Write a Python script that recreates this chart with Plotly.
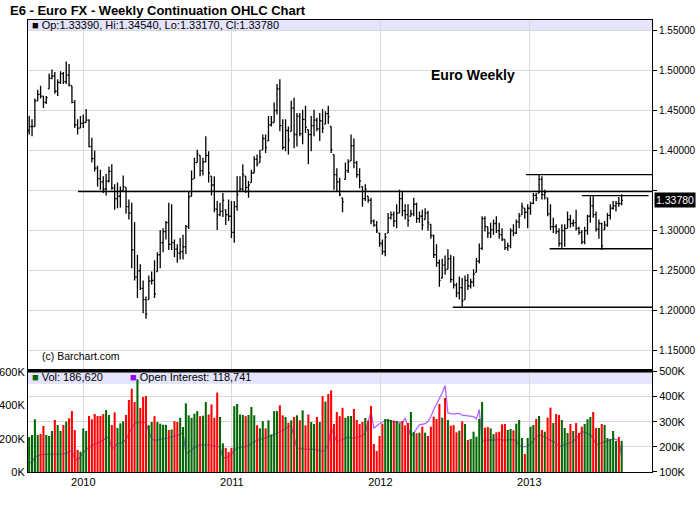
import pandas as pd
import plotly.graph_objects as go

# ---------------- data ----------------
dates = pd.date_range("2009-08-21", periods=209, freq="7D")

opens = [
1.425,1.430,1.430,1.462,1.470,1.468,1.460,1.477,1.490,1.493,
1.474,1.485,1.496,1.486,1.494,1.481,1.460,1.432,1.428,1.434,
1.435,1.438,1.405,1.390,1.378,1.365,1.361,1.352,1.362,1.374,
1.353,1.340,1.343,1.350,1.354,1.330,1.322,1.276,1.242,1.250,
1.228,1.214,1.214,1.237,1.238,1.249,1.270,1.285,1.299,1.310,
1.283,1.285,1.277,1.272,1.274,1.280,1.305,1.343,1.365,1.385,
1.394,1.375,1.386,1.394,1.368,1.357,1.327,1.320,1.324,1.326,
1.320,1.318,1.298,1.330,1.349,1.352,1.368,1.354,1.360,1.372,
1.389,1.385,1.401,1.415,1.412,1.432,1.435,1.450,1.477,1.431,
1.404,1.425,1.424,1.453,1.420,1.443,1.421,1.439,1.426,1.420,
1.431,1.438,1.427,1.437,1.433,1.446,1.430,1.395,1.370,1.361,
1.341,1.364,1.375,1.387,1.406,1.385,1.370,1.355,1.340,1.343,
1.338,1.312,1.307,1.297,1.284,1.274,1.297,1.316,1.320,1.312,
1.322,1.340,1.325,1.320,1.318,1.321,1.333,1.315,1.318,1.314,
1.322,1.308,1.294,1.270,1.260,1.241,1.257,1.252,1.265,1.239,
1.232,1.222,1.229,1.214,1.238,1.231,1.236,1.248,1.262,1.278,
1.315,1.305,1.297,1.301,1.309,1.300,1.295,1.289,1.279,1.281,
1.300,1.297,1.311,1.320,1.328,1.323,1.328,1.334,1.344,1.347,
1.364,1.345,1.341,1.321,1.305,1.305,1.299,1.284,1.300,1.303,
1.314,1.309,1.310,1.303,1.298,1.286,1.300,1.318,1.331,1.320,
1.302,1.309,1.301,1.307,1.319,1.328,1.331,1.334,1.3339]

highs = [
1.443,1.439,1.465,1.476,1.481,1.468,1.468,1.496,1.501,1.498,
1.489,1.499,1.498,1.511,1.508,1.481,1.463,1.439,1.443,1.445,
1.452,1.439,1.416,1.400,1.381,1.376,1.368,1.371,1.380,1.383,
1.358,1.360,1.355,1.369,1.354,1.339,1.335,1.311,1.270,1.258,
1.238,1.218,1.244,1.249,1.263,1.273,1.301,1.303,1.312,1.335,
1.333,1.289,1.283,1.291,1.295,1.307,1.349,1.375,1.391,1.401,
1.394,1.391,1.418,1.399,1.368,1.368,1.337,1.335,1.347,1.326,
1.339,1.337,1.337,1.368,1.368,1.383,1.368,1.362,1.376,1.393,
1.395,1.401,1.420,1.420,1.443,1.443,1.460,1.483,1.489,1.439,
1.439,1.430,1.462,1.466,1.447,1.447,1.451,1.456,1.426,1.443,
1.451,1.441,1.447,1.452,1.449,1.456,1.430,1.395,1.378,1.366,
1.341,1.385,1.389,1.420,1.415,1.387,1.378,1.355,1.358,1.343,
1.341,1.314,1.312,1.297,1.289,1.297,1.322,1.324,1.324,1.333,
1.351,1.349,1.333,1.333,1.326,1.341,1.335,1.324,1.326,1.328,
1.325,1.308,1.295,1.283,1.264,1.265,1.269,1.277,1.270,1.268,
1.235,1.243,1.241,1.244,1.246,1.240,1.252,1.266,1.284,1.318,
1.318,1.305,1.310,1.314,1.318,1.310,1.303,1.289,1.285,1.303,
1.308,1.314,1.322,1.335,1.328,1.333,1.336,1.347,1.347,1.370,
1.368,1.351,1.341,1.333,1.316,1.308,1.303,1.308,1.308,1.324,
1.320,1.314,1.326,1.305,1.301,1.305,1.320,1.343,1.343,1.324,
1.314,1.310,1.312,1.322,1.333,1.337,1.337,1.342,1.3454]

lows = [
1.420,1.418,1.430,1.462,1.465,1.453,1.458,1.477,1.489,1.471,
1.468,1.483,1.483,1.483,1.480,1.459,1.428,1.420,1.428,1.428,
1.435,1.404,1.385,1.374,1.355,1.351,1.347,1.344,1.360,1.351,
1.326,1.328,1.329,1.350,1.321,1.314,1.253,1.238,1.216,1.226,
1.197,1.190,1.214,1.233,1.216,1.249,1.253,1.273,1.289,1.276,
1.276,1.267,1.260,1.264,1.264,1.271,1.302,1.343,1.365,1.385,
1.368,1.369,1.385,1.360,1.344,1.323,1.301,1.318,1.317,1.307,
1.312,1.291,1.285,1.325,1.349,1.349,1.347,1.341,1.360,1.372,
1.380,1.385,1.401,1.397,1.412,1.430,1.435,1.445,1.424,1.401,
1.399,1.395,1.424,1.403,1.405,1.418,1.408,1.422,1.383,1.399,
1.418,1.424,1.412,1.422,1.433,1.433,1.397,1.351,1.349,1.343,
1.323,1.364,1.372,1.387,1.378,1.366,1.353,1.330,1.337,1.335,
1.308,1.305,1.297,1.280,1.270,1.268,1.297,1.314,1.305,1.303,
1.322,1.318,1.314,1.305,1.318,1.318,1.310,1.310,1.301,1.314,
1.300,1.290,1.266,1.255,1.230,1.241,1.245,1.252,1.235,1.228,
1.217,1.214,1.205,1.214,1.226,1.228,1.230,1.248,1.259,1.276,
1.299,1.291,1.291,1.295,1.297,1.290,1.287,1.276,1.275,1.278,
1.293,1.296,1.303,1.320,1.315,1.303,1.320,1.333,1.337,1.347,
1.339,1.339,1.318,1.301,1.297,1.296,1.280,1.278,1.280,1.303,
1.304,1.305,1.300,1.295,1.283,1.283,1.295,1.310,1.316,1.299,
1.290,1.276,1.301,1.305,1.314,1.326,1.324,1.330,1.3317]

closes = [
1.430,1.430,1.462,1.470,1.468,1.460,1.466,1.490,1.493,1.474,
1.485,1.496,1.486,1.494,1.482,1.460,1.432,1.428,1.434,1.435,
1.438,1.405,1.390,1.378,1.365,1.361,1.352,1.362,1.374,1.353,
1.340,1.343,1.350,1.355,1.330,1.322,1.276,1.242,1.250,1.228,
1.214,1.196,1.237,1.238,1.221,1.270,1.285,1.299,1.310,1.283,
1.285,1.277,1.272,1.274,1.280,1.305,1.342,1.364,1.385,1.396,
1.375,1.386,1.394,1.372,1.357,1.327,1.320,1.324,1.338,1.320,
1.318,1.298,1.330,1.345,1.352,1.370,1.354,1.357,1.372,1.389,
1.383,1.392,1.415,1.404,1.432,1.435,1.450,1.477,1.431,1.404,
1.425,1.413,1.453,1.420,1.443,1.421,1.439,1.429,1.420,1.431,
1.438,1.427,1.437,1.428,1.446,1.442,1.401,1.370,1.361,1.345,
1.336,1.375,1.386,1.406,1.385,1.370,1.362,1.340,1.352,1.338,
1.312,1.307,1.300,1.284,1.274,1.292,1.316,1.320,1.312,1.322,
1.340,1.325,1.320,1.313,1.321,1.333,1.315,1.318,1.307,1.322,
1.310,1.294,1.270,1.260,1.238,1.257,1.251,1.265,1.239,1.232,
1.222,1.229,1.212,1.238,1.231,1.236,1.246,1.262,1.278,1.315,
1.305,1.297,1.301,1.309,1.300,1.295,1.289,1.279,1.281,1.300,
1.297,1.311,1.318,1.330,1.323,1.328,1.334,1.344,1.341,1.364,
1.345,1.348,1.321,1.305,1.305,1.299,1.284,1.300,1.303,1.314,
1.309,1.310,1.303,1.298,1.286,1.300,1.318,1.331,1.320,1.302,
1.309,1.281,1.307,1.319,1.328,1.331,1.334,1.3339,1.3378]

# weekly volume, thousands of contracts
volume_k = [
210,222,316,222,228,276,222,216,246,312,
282,246,282,302,322,366,252,132,122,262,
246,336,316,348,336,336,348,372,342,282,
358,264,292,304,342,432,500,420,556,385,
450,455,280,300,335,300,290,283,283,252,
255,305,300,325,270,412,340,325,350,365,
335,338,420,345,405,325,476,330,172,145,
120,145,395,408,345,342,335,342,390,340,
280,262,305,262,310,225,365,365,400,340,
330,296,310,330,340,310,370,280,345,300,
288,330,300,455,422,468,490,288,360,335,
385,325,335,
336,378,312,288,300,324,308,396,168,126,
216,290,318,318,312,308,306,292,306,280,
294,360,240,232,236,272,236,216,272,332,
318,408,326,444,312,278,282,238,248,304,
288,192,198,242,212,318,420,266,270,262,
228,238,242,286,288,252,258,250,290,312,
204,108,204,272,282,318,
336,252,242,326,386,294,348,342,312,264,
234,288,246,294,234,272,288,316,330,360,
264,264,288,282,204,198,246,186,210,186.62]

# open interest, thousands of contracts
oi_k = [
135,140,160,165,168,170,170,171,171,172,
172,173,172,175,181,185,150,148,161,175,
190,198,205,212,215,220,228,235,240,191,
200,212,215,218,230,255,275,292,297,298,
300,295,265,230,226,228,228,230,232,236,
240,242,245,252,255,175,178,188,195,205,
208,208,210,208,206,205,204,200,155,158,
161,170,185,195,199,200,200,205,215,221,
226,230,232,235,240,245,250,255,257,265,
272,280,283,240,195,193,191,190,191,192,
190,188,185,181,190,208,275,245,221,225,
230,235,239,
235,236,239,240,245,255,300,340,275,282,
292,300,304,305,302,300,298,296,295,315,
280,241,255,270,288,290,292,301,320,348,
370,395,415,444,335,332,330,332,333,326,
324,325,322,320,311,348,221,225,228,228,
226,228,230,228,226,228,230,228,225,205,
201,200,203,210,225,240,
248,245,240,232,225,221,215,201,205,210,
215,218,221,235,250,261,258,252,248,235,
208,212,216,221,225,228,232,230,225,160]

oi_last_label = "118,741"

# drawn trend / support lines
hline_levels = [1.349, 1.370, 1.3438, 1.2775, 1.2045]
hline_starts = ["2009-12-19", "2012-12-24", "2013-05-10", "2013-02-20", "2012-06-27"]
hline_ends = ["2013-10-29 12:00", "2013-10-29 12:00", "2013-10-21", "2013-10-29 12:00", "2013-10-29 12:00"]

price_ticks = [1.15, 1.20, 1.25, 1.30, 1.35, 1.40, 1.45, 1.50, 1.55]
year_ticks = ["2010-01-01", "2011-01-01", "2012-01-01", "2013-01-01"]
year_labels = ["2010", "2011", "2012", "2013"]
vol_ticks = [0, 200, 400, 600]
oi_ticks = [100, 200, 300, 400, 500]

x_range = ["2009-08-18 02:00", "2013-10-29 12:00"]

GREEN = "#006600"
RED = "#ff0000"
PURPLE = "#9900ff"
GRID = "#d9d9d9"
FONT = "Liberation Sans"

vol_colors = [GREEN if i == 0 or closes[i] >= closes[i - 1] else RED for i in range(len(closes))]
price_ticktext = [("%.5f" % v) if abs(v - closes[-1]) > 0.02 else "" for v in price_ticks]

fig = go.Figure()

fig.add_trace(go.Ohlc(
    x=dates, open=opens, high=highs, low=lows, close=closes,
    increasing=dict(line=dict(color="black", width=1.3)),
    decreasing=dict(line=dict(color="black", width=1.3)),
    tickwidth=0.45, xaxis="x", yaxis="y", hoverinfo="skip"))

for lvl, s, e in zip(hline_levels, hline_starts, hline_ends):
    fig.add_trace(go.Scatter(x=[s, e], y=[lvl, lvl], mode="lines",
                             line=dict(color="black", width=1.4),
                             xaxis="x", yaxis="y", hoverinfo="skip", cliponaxis=False))

fig.add_trace(go.Scatter(x=dates, y=oi_k, mode="lines",
                         line=dict(color="#b266ff", width=1.3),
                         xaxis="x2", yaxis="y2", hoverinfo="skip"))

fig.add_trace(go.Bar(x=dates, y=volume_k, marker=dict(color=vol_colors, line=dict(width=0)),
                     xaxis="x2", yaxis="y3", hoverinfo="skip"))

top_lo = 0.228
vol_hi = 0.2235

fig.update_layout(
    width=700, height=512,
    margin=dict(l=28, r=48, t=20, b=40, autoexpand=False),
    paper_bgcolor="white", plot_bgcolor="white",
    showlegend=False, bargap=0.28, hovermode=False,
    font=dict(family=FONT, size=11, color="black"),
    title=dict(text="<b>E6 - Euro FX - Weekly Continuation OHLC Chart</b>",
               x=10 / 700, xanchor="left", xref="container",
               y=1 - 10 / 512, yanchor="middle", yref="container", automargin=False,
               font=dict(family=FONT, size=13, color="black")),
    xaxis=dict(domain=[0, 1], anchor="y", type="date", range=x_range, automargin=False,
               showticklabels=False, tickvals=year_ticks, ticks="",
               showgrid=True, gridcolor=GRID, gridwidth=1.2,
               showline=True, linecolor="black", linewidth=1, mirror=True,
               rangeslider=dict(visible=False), zeroline=False),
    yaxis=dict(domain=[top_lo, 1], anchor="x", side="right", automargin=False,
               range=[1.1275, 1.5629], tickvals=price_ticks, ticktext=price_ticktext,
               ticks="outside", ticklen=4, tickcolor="black",
               tickfont=dict(size=10),
               showgrid=True, gridcolor=GRID, gridwidth=1.2,
               showline=True, linecolor="black", linewidth=1, mirror=True,
               zeroline=False),
    xaxis2=dict(domain=[0, 1], anchor="y2", type="date", range=x_range, matches="x",
                automargin=False,
                tickvals=year_ticks, ticktext=year_labels, ticks="",
                tickfont=dict(size=11),
                showgrid=True, gridcolor=GRID, gridwidth=1.2,
                showline=True, linecolor="black", linewidth=1, mirror=True,
                zeroline=False),
    yaxis2=dict(domain=[0, vol_hi], anchor="x2", side="right", automargin=False,
                range=[100, 502], tickvals=oi_ticks, ticktext=["%dK" % v for v in oi_ticks],
                ticks="outside", ticklen=4, tickcolor="black",
                tickfont=dict(size=11),
                showgrid=True, gridcolor=GRID, gridwidth=1.2,
                showline=True, linecolor="black", linewidth=1, zeroline=False),
    yaxis3=dict(overlaying="y2", anchor="x2", side="left", automargin=False,
                range=[0, 606], tickvals=vol_ticks, ticktext=["%dK" % v for v in vol_ticks],
                ticks="", tickfont=dict(size=11),
                showgrid=False, showline=True, linecolor="black", linewidth=1,
                zeroline=False),
)

# legend bands
fig.add_shape(type="rect", xref="x domain", yref="y domain", x0=0, x1=1,
              y0=1 - 11 / 349, y1=1, fillcolor="#e4e4fc", line=dict(width=0), layer="below")
fig.add_shape(type="rect", xref="x2 domain", yref="y2 domain", x0=0, x1=1,
              y0=1 - 13 / 101, y1=1, fillcolor="#e4e4fc", line=dict(width=0), layer="below")
fig.add_shape(type="line", xref="x2 domain", yref="y2 domain", x0=0, x1=1,
              y0=1, y1=1, line=dict(color="black", width=3))

legend_top = "■ Op:%.5f, Hi:%.5f, Lo:%.5f, Cl:%.5f" % (opens[-1], highs[-1], lows[-1], closes[-1])
fig.add_annotation(text=legend_top, xref="x domain", yref="y domain", x=0, y=1 - 5.5 / 349,
                   xanchor="left", yanchor="middle", xshift=2, showarrow=False,
                   font=dict(size=11, color="black"))

vol_last = int(round(volume_k[-1] * 1000))
fig.add_annotation(text="<span style='color:%s'>■</span> Vol: %s" % (GREEN, format(vol_last, ",")),
                   xref="x2 domain", yref="y2 domain", x=0, y=1 - 6.5 / 101,
                   xanchor="left", yanchor="middle", xshift=2, showarrow=False,
                   font=dict(size=11, color="black"))
fig.add_annotation(text="<span style='color:%s'>■</span> Open Interest: %s" % (PURPLE, oi_last_label),
                   xref="x2 domain", yref="y2 domain", x=(128 - 28) / 624, y=1 - 6.5 / 101,
                   xanchor="left", yanchor="middle", showarrow=False,
                   font=dict(size=11, color="black"))

fig.add_annotation(text="<b>Euro Weekly</b>", xref="x domain", yref="y domain",
                   x=(473 - 28) / 624, y=(369 - 75) / 349, xanchor="center", yanchor="middle",
                   showarrow=False, font=dict(size=14, color="black"))
fig.add_annotation(text="(c) Barchart.com", xref="x domain", yref="y domain",
                   x=(40 - 28) / 624, y=(369 - 356) / 349, xanchor="left", yanchor="middle",
                   showarrow=False, font=dict(size=10.5, color="black"))

fig.add_annotation(text="%.5f" % closes[-1], xref="x domain", yref="y",
                   x=1, y=closes[-1], xanchor="left", yanchor="middle", xshift=2,
                   showarrow=False, bgcolor="black", borderpad=1,
                   font=dict(size=10.5, color="white"))

fig.write_html("out.html", config={"displayModeBar": False},
               post_script="document.body.style.margin='0';document.body.style.padding='0';")
